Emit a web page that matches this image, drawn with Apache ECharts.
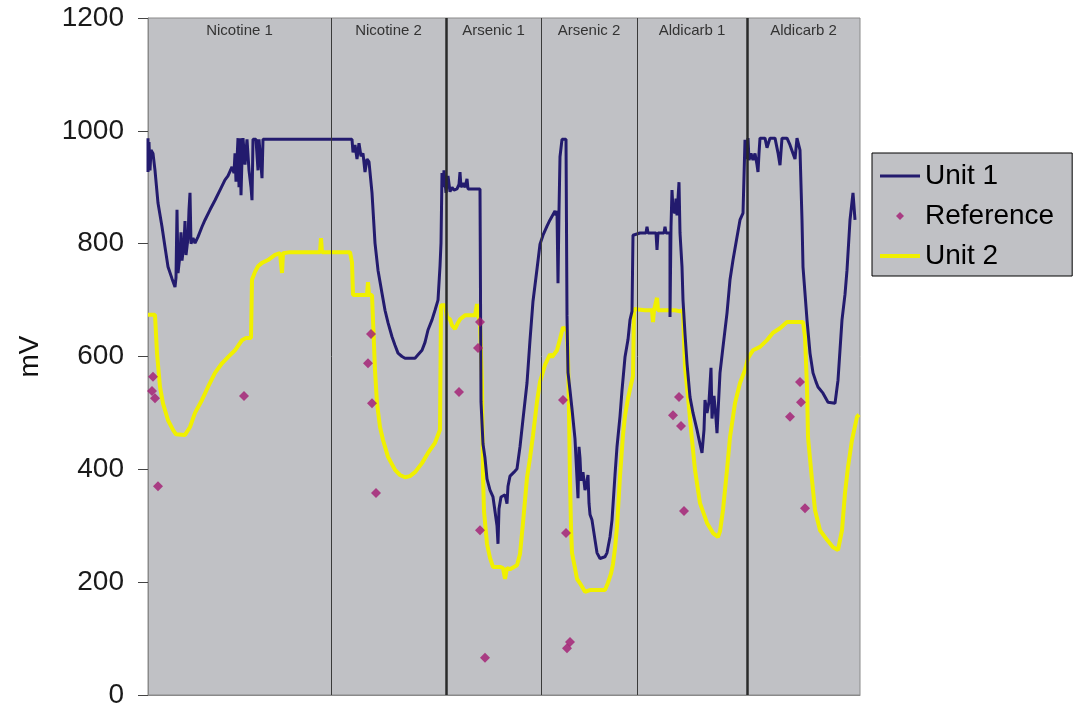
<!DOCTYPE html>
<html>
<head>
<meta charset="utf-8">
<script src="https://cdn.jsdelivr.net/npm/echarts@6/dist/echarts.min.js"></script>
<style>
html,body{margin:0;padding:0;background:#fff;}
#chart{width:1074px;height:713px;}
</style>
</head>
<body>
<div id="chart"></div>
<script>
// sample index (0..712) and mV
var unit1 = [
[0,987],[0,927],[1,980],[2,930],[3,966],[5,960],[7,930],[10,872],[14,830],[17,794],[20,759],[24,738],[27,723],[28,740],[29,860],[30,748],[32,780],[33,820],[34,770],[36,800],[37,840],[38,780],[40,810],[41,860],[42,890],[43,800],[45,810],[47,801],[50,812],[54,830],[57,842],[62,860],[67,877],[72,895],[77,913],[80,920],[84,936],[86,925],[87,960],[88,910],[90,987],[91,900],[92,987],[93,886],[94,950],[95,987],[97,940],[99,985],[101,930],[103,900],[104,877],[105,985],[108,985],[110,930],[111,985],[113,985],[114,916],[115,985],[204,985],
[205,962],[207,975],[209,950],[211,978],[213,955],[215,960],[217,927],[219,950],[221,945],[222,945],[224,890],[227,801],[230,753],[234,712],[237,682],[240,660],[244,635],[247,620],[250,606],[254,600],[257,597],[262,597],[267,597],[270,603],[274,611],[277,625],[280,647],[284,665],[287,682],[290,700],[292,760],[293,801],[294,925],[295,900],[296,930],[298,890],[300,920],[302,892],
[304,900],[306,895],[309,897],[311,905],[312,927],[313,900],[315,907],[317,900],[319,915],[320,897],[324,897],[332,897],[333,520],[335,445],[337,420],[339,383],[342,363],[345,351],[347,350],[349,300],[350,268],[351,330],[353,351],[355,351],[357,355],[359,339],[360,370],[362,388],[366,395],[369,401],[372,440],[375,489],[379,553],[382,629],[385,698],[389,755],[392,799],[395,815],[399,831],[402,842],
[404,845],[407,858],[408,850],[409,858],[410,730],[411,858],[412,954],[414,985],[418,985],[419,672],[420,572],[422,540],[424,507],[427,454],[429,457],[430,349],[431,440],[432,420],[433,380],[435,395],[437,363],[439,380],[440,390],[441,340],[442,320],[444,310],[447,275],[449,252],[452,242],[454,241],[457,245],[459,252],[462,280],[464,310],[467,390],[469,440],[472,494],[474,540],[477,599],[480,630],[482,665],[484,680],[485,815],
[492,819],[498,819],[499,830],[500,819],[508,819],[509,789],[510,819],[516,819],[517,830],[518,819],[522,819],[522,670],[523,830],[524,895],[525,860],[527,854],[528,880],[529,850],[531,909],[532,819],[534,759],[535,700],[537,640],[539,588],[542,528],[545,500],[549,470],[552,445],[554,429],[556,470],[557,523],[559,500],[561,520],[563,580],[564,490],[566,530],[568,490],[569,464],[570,500],[572,571],[575,617],[579,677],[582,736],[585,771],[589,812],[592,842],[595,854],[597,984],
[598,987],[599,950],[600,987],[601,948],[603,960],[605,948],[607,960],[609,940],[610,927],[611,960],[612,987],[617,987],[619,970],[622,987],[627,987],[630,961],[632,939],[634,987],[639,987],[642,975],[645,960],[647,950],[649,987],[651,987],[652,966],[654,842],[655,759],[659,665],[662,606],[665,571],[668,555],[670,546],[675,535],[680,519],[687,517],[690,558],[694,665],[697,710],[699,753],[702,842],[705,890],[707,842]
];
var unit2 = [
[0,674],[7,674],[9,606],[12,546],[15,517],[20,487],[25,470],[28,462],[30,461],[37,461],[42,475],[47,500],[54,523],[60,546],[67,571],[74,588],[80,599],[87,611],[94,629],[98,633],[103,633],[104,736],[107,750],[110,760],[114,766],[120,771],[127,780],[132,783],[134,748],[135,783],[142,785],[172,785],[173,810],[174,785],[202,785],
[204,767],[205,709],[219,709],[220,732],[221,709],[224,709],[225,665],[227,576],[229,517],[232,475],[235,452],[240,422],[247,399],[252,390],[257,386],[262,388],[267,395],[274,411],[280,429],[287,447],[292,470],[293,691],[297,691],
[299,670],[302,666],[304,655],[307,649],[310,660],[312,666],[317,673],[327,673],[329,693],[330,673],[332,661],[334,550],[335,388],[336,326],[339,268],[342,243],[345,227],[352,227],[355,225],[357,206],[359,225],[362,223],[369,230],[372,250],[375,305],[379,385],[382,420],[385,460],[389,520],[392,555],[397,585],[402,604],
[404,599],[409,611],[412,631],[415,652],[417,650],[419,645],[420,600],[421,500],[422,380],[423,298],[424,252],[427,225],[429,206],[432,198],[434,195],[437,183],[442,186],[457,186],[460,199],[463,215],[465,232],[467,260],[469,298],[472,388],[475,461],[477,495],[480,526],[483,550],[485,565],[486,684],
[497,682],[504,682],[505,661],[506,682],[508,682],[509,704],[510,682],[527,682],[532,680],[535,682],[537,581],[540,528],[544,452],[547,399],[552,340],[559,305],[565,287],[570,280],[572,290],[575,328],[579,399],[582,457],[587,517],[592,553],[597,576],[600,597],
[602,600],[605,611],[612,617],[619,629],[625,642],[632,650],[639,661],[655,661],[657,635],[659,546],[660,457],[664,381],[667,328],[672,292],[679,275],[685,262],[690,257],[694,292],[697,358],[700,404],[704,452],[709,493],[711,497]
];
var reference = [
[5,564],[4,539],[7,526],[10,370],[96,530],
[223,640],[220,588],[224,517],[228,358],
[311,537],[332,661],[330,615],[332,292],[337,66],
[415,523],[418,287],[422,94],[419,83],
[531,528],[525,496],[533,477],[536,326],
[652,555],[653,519],[642,493],[657,331]
];
var sectionNames = ['Nicotine 1','Nicotine 2','Arsenic 1','Arsenic 2','Aldicarb 1','Aldicarb 2'];
var sectionBounds = [0,183,298,393,489,599,712];
var thickBounds = [298,599];

var FONT = "'Liberation Sans', Arial, sans-serif";
var areas = [], lines = [];
for (var i = 0; i < sectionNames.length; i++) {
  areas.push([{name: sectionNames[i], xAxis: sectionBounds[i]}, {xAxis: sectionBounds[i+1]}]);
}
for (var j = 1; j < sectionBounds.length - 1; j++) {
  var thick = thickBounds.indexOf(sectionBounds[j]) >= 0;
  lines.push({xAxis: sectionBounds[j], lineStyle: {width: thick ? 2.5 : 1, color: thick ? '#2a2a2a' : '#3a3a3a'}});
}

var chart = echarts.init(document.getElementById('chart'), null, {renderer: 'canvas'});
chart.setOption({
  animation: false,
  textStyle: {fontFamily: FONT},
  grid: {left: 148, right: 214, top: 18, bottom: 18, show: true, backgroundColor: '#C0C1C5', borderColor: '#8a8a8a', borderWidth: 1},
  xAxis: {type: 'value', min: 0, max: 712, axisLabel: {show: false}, axisTick: {show: false}, splitLine: {show: false}, axisLine: {show: true, lineStyle: {color: '#8a8a8a'}}},
  yAxis: {
    type: 'value', min: 0, max: 1200, interval: 200,
    name: 'mV', nameLocation: 'middle', nameRotate: 90, nameGap: 104,
    nameTextStyle: {fontSize: 28, color: '#111', fontFamily: FONT},
    axisLine: {show: true, lineStyle: {color: '#8a8a8a'}},
    axisTick: {show: true, length: 10, lineStyle: {color: '#444'}},
    axisLabel: {fontSize: 28, color: '#1a1a1a', margin: 24, fontFamily: FONT, formatter: function (v) { return String(v); }},
    splitLine: {show: false}
  },
  legend: {
    orient: 'vertical', left: 872, top: 153,
    data: [
      {name: 'Unit 1', icon: 'path://M0,0 L38,0 L38,3 L0,3 Z'},
      {name: 'Reference', icon: 'path://M0,-1 L1,0 L0,1 L-1,0 Z'},
      {name: 'Unit 2', icon: 'path://M0,0 L38,0 L38,4 L0,4 Z'}
    ],
    symbolKeepAspect: true,
    backgroundColor: '#C0C1C5', borderColor: '#000', borderWidth: 1,
    padding: [9, 18, 6, 8], itemGap: 12, itemWidth: 40, itemHeight: 8,
    textStyle: {fontSize: 28, color: '#000', fontFamily: FONT, lineHeight: 28}
  },
  series: [
    {
      name: 'sections', type: 'line', data: [], silent: true, z: 1,
      markArea: {silent: true, itemStyle: {color: 'rgba(0,0,0,0)'},
        label: {show: true, position: 'insideTop', distance: 5, color: '#333', fontSize: 15, fontFamily: FONT},
        data: areas},
      markLine: {silent: true, symbol: ['none', 'none'], label: {show: false}, lineStyle: {type: 'solid'}, data: lines}
    },
    {name: 'Unit 2', type: 'line', data: unit2, symbol: 'none', z: 2, lineStyle: {color: '#F0F000', width: 4}, itemStyle: {color: '#F0F000'}},
    {name: 'Unit 1', type: 'line', data: unit1, symbol: 'none', z: 3, lineStyle: {color: '#231B6E', width: 3}, itemStyle: {color: '#231B6E'}},
    {name: 'Reference', type: 'scatter', data: reference, z: 4, symbol: 'diamond', symbolSize: 10, itemStyle: {color: '#A21A72'}}
  ]
});
</script>
</body>
</html>
